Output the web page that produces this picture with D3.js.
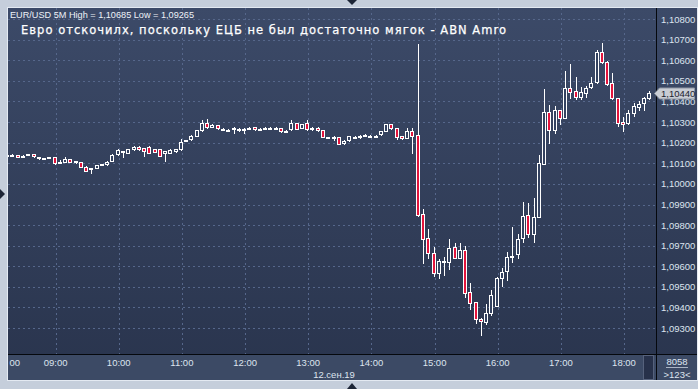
<!DOCTYPE html>
<html><head><meta charset="utf-8">
<script src="https://cdn.jsdelivr.net/npm/d3@7"></script>
<style>html,body{margin:0;padding:0;background:#c5cedb;overflow:hidden}svg{display:block}</style>
</head><body><svg id="c" width="698" height="389"></svg>
<script>
const open = [
1.10141,1.10141,1.10139,1.10134,1.10139,1.10145,1.10125,1.10124,1.10127,1.10129,
1.10108,1.10107,1.10120,1.10105,1.10105,1.10084,1.10073,1.10078,1.10094,1.10096,
1.10113,1.10144,1.10158,1.10152,1.10168,1.10181,1.10173,1.10178,1.10168,1.10168,
1.10149,1.10152,1.10158,1.10168,1.10209,1.10216,1.10234,1.10261,1.10297,1.10276,
1.10285,1.10267,1.10264,1.10269,1.10267,1.10266,1.10272,1.10274,1.10268,1.10270,
1.10272,1.10268,1.10270,1.10258,1.10265,1.10294,1.10272,1.10294,1.10265,1.10272,
1.10261,1.10228,1.10228,1.10226,1.10197,1.10211,1.10229,1.10232,1.10236,1.10233,
1.10232,1.10241,1.10258,1.10289,1.10270,1.10232,1.10225,1.10258,1.10236,1.09854,
1.09736,1.09663,1.09566,1.09626,1.09622,1.09692,1.09642,1.09679,1.09474,1.09425,
1.09344,1.09331,1.09375,1.09409,1.09542,1.09577,1.09650,1.09658,1.09736,1.09849,
1.09755,1.09841,1.10097,1.10348,1.10262,1.10359,1.10321,1.10464,1.10450,1.10420,
1.10443,1.10469,1.10493,1.10639,1.10593,1.10488,1.10416,1.10299,1.10294,1.10343,
1.10375,1.10391,1.10416];
const high = [
1.10144,1.10144,1.10141,1.10138,1.10147,1.10147,1.10133,1.10126,1.10131,1.10131,
1.10116,1.10129,1.10122,1.10112,1.10107,1.10086,1.10077,1.10093,1.10098,1.10110,
1.10143,1.10170,1.10160,1.10170,1.10185,1.10184,1.10175,1.10182,1.10170,1.10170,
1.10162,1.10167,1.10170,1.10216,1.10213,1.10236,1.10263,1.10310,1.10314,1.10290,
1.10287,1.10272,1.10268,1.10274,1.10270,1.10270,1.10278,1.10276,1.10270,1.10274,
1.10275,1.10274,1.10272,1.10260,1.10310,1.10296,1.10291,1.10310,1.10274,1.10274,
1.10263,1.10230,1.10231,1.10228,1.10212,1.10234,1.10231,1.10235,1.10240,1.10236,
1.10235,1.10258,1.10291,1.10291,1.10272,1.10234,1.10270,1.10270,1.10680,1.09877,
1.09780,1.09692,1.09634,1.09644,1.09731,1.09712,1.09712,1.09699,1.09517,1.09427,
1.09349,1.09417,1.09485,1.09550,1.09590,1.09669,1.09789,1.09757,1.09911,1.09906,
1.09930,1.10140,1.10459,1.10383,1.10378,1.10361,1.10548,1.10582,1.10517,1.10469,
1.10475,1.10517,1.10650,1.10685,1.10595,1.10537,1.10418,1.10323,1.10359,1.10391,
1.10402,1.10423,1.10451];
const low = [
1.10138,1.10139,1.10129,1.10132,1.10138,1.10133,1.10122,1.10120,1.10126,1.10098,
1.10100,1.10105,1.10106,1.10103,1.10082,1.10063,1.10052,1.10076,1.10092,1.10094,
1.10111,1.10142,1.10129,1.10150,1.10166,1.10166,1.10137,1.10150,1.10153,1.10134,
1.10113,1.10150,1.10156,1.10166,1.10207,1.10214,1.10232,1.10259,1.10272,1.10274,
1.10268,1.10262,1.10258,1.10245,1.10256,1.10245,1.10268,1.10263,1.10266,1.10266,
1.10270,1.10266,1.10253,1.10255,1.10263,1.10266,1.10270,1.10264,1.10263,1.10258,
1.10226,1.10225,1.10211,1.10192,1.10195,1.10209,1.10226,1.10221,1.10232,1.10228,
1.10230,1.10239,1.10256,1.10268,1.10218,1.10219,1.10223,1.10149,1.09846,1.09615,
1.09639,1.09554,1.09542,1.09558,1.09585,1.09639,1.09639,1.09452,1.09393,1.09323,
1.09265,1.09318,1.09362,1.09405,1.09506,1.09533,1.09622,1.09639,1.09717,1.09741,
1.09719,1.09838,1.10095,1.10197,1.10246,1.10289,1.10318,1.10416,1.10412,1.10412,
1.10423,1.10466,1.10490,1.10587,1.10480,1.10414,1.10283,1.10258,1.10292,1.10331,
1.10359,1.10359,1.10414];
const close = [
1.10141,1.10142,1.10131,1.10136,1.10145,1.10134,1.10131,1.10122,1.10129,1.10100,
1.10108,1.10120,1.10108,1.10110,1.10084,1.10065,1.10075,1.10091,1.10096,1.10108,
1.10141,1.10165,1.10156,1.10168,1.10181,1.10168,1.10161,1.10152,1.10155,1.10136,
1.10160,1.10165,1.10168,1.10205,1.10211,1.10234,1.10261,1.10294,1.10274,1.10286,
1.10270,1.10266,1.10263,1.10270,1.10266,1.10267,1.10272,1.10265,1.10268,1.10270,
1.10273,1.10272,1.10255,1.10257,1.10294,1.10268,1.10289,1.10266,1.10272,1.10260,
1.10228,1.10227,1.10229,1.10194,1.10210,1.10232,1.10228,1.10233,1.10236,1.10232,
1.10233,1.10256,1.10289,1.10270,1.10226,1.10221,1.10257,1.10233,1.09848,1.09731,
1.09663,1.09566,1.09627,1.09628,1.09687,1.09642,1.09679,1.09469,1.09420,1.09343,
1.09333,1.09372,1.09461,1.09545,1.09571,1.09647,1.09652,1.09731,1.09844,1.09757,
1.09838,1.10100,1.10348,1.10262,1.10359,1.10318,1.10464,1.10445,1.10420,1.10445,
1.10464,1.10488,1.10639,1.10590,1.10483,1.10416,1.10294,1.10289,1.10343,1.10378,
1.10388,1.10416,1.10440];

const sessionDay = "2019-09-12";
const firstBarTime = "08:15";
const barMinutes = 5;
const hourTicks = ["09:00","10:00","11:00","12:00","13:00","14:00","15:00","16:00","17:00","18:00"];
const priceTicks = [1.093,1.094,1.095,1.096,1.097,1.098,1.099,1.100,1.101,1.102,1.103,1.104,1.105,1.106,1.107,1.108];
const dateLabel = "12.сен.19";
const symbolLabel = "EUR/USD 5M";
const titleText = "Евро отскочилх, поскольку ЕЦБ не был достаточно мягок - ABN Amro";
const barsInfo = ["8058", ">123<"];

const fmt = v => d3.format(".5f")(v).replace(".", ",");
const parse = d3.timeParse("%Y-%m-%dT%H:%M");
const t0 = parse(sessionDay + "T" + firstBarTime);
const times = open.map((_, i) => d3.timeMinute.offset(t0, barMinutes * i));

const x = d3.scaleTime()
  .domain([parse(sessionDay + "T09:00"), parse(sessionDay + "T18:00")])
  .range([55.6, 624]);
const y = d3.scaleLinear().domain([1.093, 1.108]).range([328.1, 19.1]);

const svg = d3.select("#c");
const defs = svg.append("defs");
const g1 = defs.append("linearGradient").attr("id","bg").attr("x1",0).attr("y1",0).attr("x2",0).attr("y2",1);
g1.append("stop").attr("offset","0").attr("stop-color","#3c4a68");
g1.append("stop").attr("offset","1").attr("stop-color","#29344d");
defs.append("clipPath").attr("id","plotClip").append("rect").attr("x",8).attr("y",8).attr("width",648).attr("height",346);
defs.append("clipPath").attr("id","axisClip").append("rect").attr("x",9).attr("y",355).attr("width",633).attr("height",25);

// outer background & panel
svg.append("rect").attr("width",698).attr("height",389).attr("fill","#c5cedb");
svg.append("rect").attr("x",7.5).attr("y",7.5).attr("width",690).attr("height",373).attr("fill","url(#bg)").attr("stroke","#e4eaf2");
// time axis strip
svg.append("rect").attr("x",8).attr("y",355).attr("width",689).attr("height",25).attr("fill","#3c4a65");

// decorative triangles
svg.append("path").attr("d","M347,0 L357,0 L352,5 Z").attr("fill","#1c2536");
svg.append("path").attr("d","M347,389 L357,389 L352,383 Z").attr("fill","#1c2536");
svg.append("path").attr("d","M0,189 L0,199 L5,194 Z").attr("fill","#1c2536");

const plot = svg.append("g").attr("clip-path","url(#plotClip)");
const gridColor = "#56678b";
// grid
plot.selectAll("line.vg").data(hourTicks).join("line")
  .attr("x1", d => Math.round(x(parse(sessionDay+"T"+d))) + 0.5)
  .attr("x2", d => Math.round(x(parse(sessionDay+"T"+d))) + 0.5)
  .attr("y1", 8).attr("y2", 354)
  .attr("stroke", gridColor).attr("stroke-dasharray","2,3");
plot.selectAll("line.hg").data(priceTicks).join("line")
  .attr("x1", 8).attr("x2", 656)
  .attr("y1", d => Math.round(y(d)) + 0.5).attr("y2", d => Math.round(y(d)) + 0.5)
  .attr("stroke", gridColor).attr("stroke-dasharray","2,3");

// candles
const bars = times.map((t,i) => ({t, o:open[i], h:high[i], l:low[i], c:close[i]}));
const cg = plot.append("g");
bars.forEach(b => {
  const cx = Math.round(x(b.t));
  cg.append("line")
    .attr("x1", cx - 0.5).attr("x2", cx - 0.5)
    .attr("y1", Math.round(y(b.h))).attr("y2", Math.round(y(b.l)) + 1)
    .attr("stroke","#ffffff").attr("stroke-width",1);
  const top = Math.round(y(Math.max(b.o,b.c)));
  const bot = Math.round(y(Math.min(b.o,b.c)));
  const bear = b.c < b.o;
  cg.append("rect")
    .attr("x", cx - 2.5).attr("y", top + 0.5)
    .attr("width", 3).attr("height", Math.max(bot - top, 1))
    .attr("fill", bear ? "#e3143c" : "#344260")
    .attr("stroke","#ffffff").attr("stroke-width",1);
});

// separators
svg.append("line").attr("x1",8).attr("x2",697).attr("y1",354.5).attr("y2",354.5).attr("stroke","#05080d");
svg.append("line").attr("x1",656.5).attr("x2",656.5).attr("y1",8).attr("y2",380).attr("stroke","#05080d");

const axisFont = "Liberation Sans, Arial, sans-serif";
const txtColor = "#dde4ef";
const lastV = close[close.length-1];
// price axis labels (the one hidden under the last-price marker is covered, as in the reference)
svg.selectAll("text.py").data(priceTicks).join("text")
  .attr("x", 661).attr("y", d => y(d) + 3.5)
  .attr("font-family", axisFont).attr("font-size", "9.5px").attr("fill", txtColor)
  .text(fmt);

// last price marker
const ly = Math.round(y(lastV)) + 0.5;
svg.append("path")
  .attr("d", `M654.5,${ly} L659.5,${ly-5.5} L694.5,${ly-5.5} L694.5,${ly+5.5} L659.5,${ly+5.5} Z`)
  .attr("fill","#c9cdd4").attr("stroke","#8e96a3");
svg.append("text").attr("x",661).attr("y",ly+3.5)
  .attr("font-family", axisFont).attr("font-size","9.5px").attr("fill","#1d2330")
  .text(fmt(lastV));

// time axis labels
const ax = svg.append("g").attr("clip-path","url(#axisClip)");
ax.selectAll("text").data(hourTicks).join("text")
  .attr("x", d => x(parse(sessionDay+"T"+d))).attr("y", 366)
  .attr("text-anchor","middle")
  .attr("font-family", axisFont).attr("font-size","9.5px").attr("fill", txtColor)
  .text(d => d);
ax.append("text").attr("x", 20).attr("y", 366).attr("text-anchor","end")
  .attr("font-family", axisFont).attr("font-size","9.5px").attr("fill", txtColor)
  .text("08:00");
svg.append("text").attr("x", 334).attr("y", 378).attr("text-anchor","middle")
  .attr("font-family", axisFont).attr("font-size","9.5px").attr("fill", txtColor)
  .text(dateLabel);

// scroll box
svg.append("rect").attr("x",643.5).attr("y",355.5).attr("width",10).attr("height",24)
  .attr("fill","#27314a").attr("stroke","#56627c");

// bars info
svg.append("text").attr("x",677).attr("y",365).attr("text-anchor","middle")
  .attr("font-family", axisFont).attr("font-size","9.5px").attr("fill", txtColor).text(barsInfo[0]);
svg.append("line").attr("x1",666).attr("x2",688).attr("y1",367.5).attr("y2",367.5).attr("stroke","#aab4c4");
svg.append("text").attr("x",677).attr("y",377.5).attr("text-anchor","middle")
  .attr("font-family", axisFont).attr("font-size","9.5px").attr("fill", txtColor).text(barsInfo[1]);

// header texts
const hdr = `${symbolLabel} High = ${fmt(d3.max(high))} Low = ${fmt(d3.min(low))}`;
svg.append("text").attr("x",10).attr("y",18)
  .attr("font-family", axisFont).attr("font-size","9.5px").attr("fill","#eef2f8")
  .attr("textLength",184).attr("lengthAdjust","spacingAndGlyphs").text(hdr);
svg.append("text").attr("x",21).attr("y",33.5)
  .attr("font-family","DejaVu Sans, Verdana, sans-serif").attr("font-size","11.5px").attr("fill","#ffffff")
  .attr("stroke","#ffffff").attr("stroke-width",0.25)
  .attr("textLength",485).attr("lengthAdjust","spacing").text(titleText);
</script></body></html>
